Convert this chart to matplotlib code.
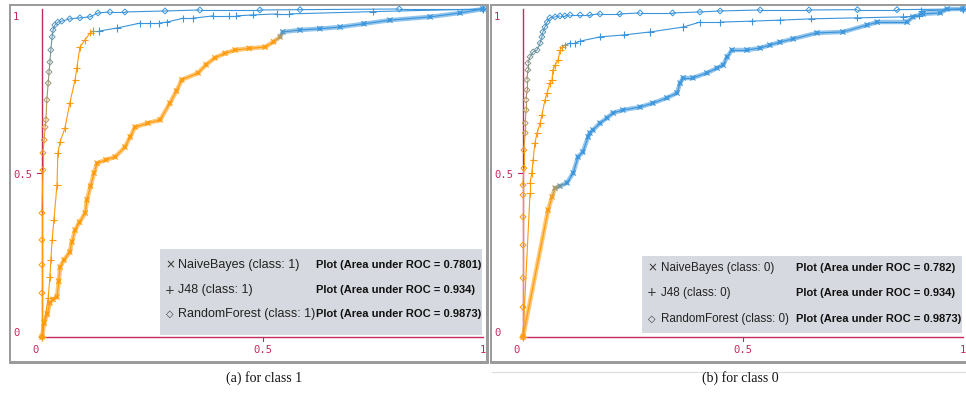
import numpy as np
import matplotlib
matplotlib.use("Agg")
import matplotlib.pyplot as plt
from matplotlib.collections import LineCollection
from matplotlib.colors import LinearSegmentedColormap
from matplotlib.patches import Rectangle

# ---------------- data: ROC points (false positive rate, true positive rate) ----------------
# class 1
nb1_fpr = [0, 0.005, 0.012, 0.018, 0.025, 0.034, 0.038, 0.041, 0.05, 0.063, 0.068, 0.075, 0.085,
           0.098, 0.102, 0.11, 0.118, 0.125, 0.145, 0.166, 0.188, 0.2, 0.211, 0.24, 0.268, 0.29,
           0.305, 0.317, 0.354, 0.372, 0.392, 0.415, 0.438, 0.47, 0.506, 0.525, 0.54, 0.546,
           0.585, 0.63, 0.676, 0.73, 0.789, 0.88, 0.948, 1.0]
nb1_tpr = [0, 0.043, 0.07, 0.104, 0.115, 0.122, 0.17, 0.213, 0.235, 0.259, 0.29, 0.326, 0.35,
           0.378, 0.418, 0.46, 0.5, 0.53, 0.54, 0.549, 0.579, 0.61, 0.64, 0.652, 0.662, 0.713,
           0.75, 0.784, 0.805, 0.83, 0.851, 0.865, 0.875, 0.88, 0.884, 0.9, 0.915, 0.93,
           0.936, 0.94, 0.945, 0.955, 0.966, 0.976, 0.988, 1.0]

j48_1_fpr = [0, 0.014, 0.018, 0.02, 0.023, 0.027, 0.034, 0.036, 0.041, 0.052, 0.063, 0.075, 0.079,
             0.086, 0.097, 0.109, 0.116, 0.13, 0.17, 0.222, 0.245, 0.265, 0.283, 0.32, 0.342,
             0.388, 0.425, 0.44, 0.478, 0.533, 0.56, 0.75, 1.0]
j48_1_tpr = [0, 0.119, 0.183, 0.235, 0.296, 0.357, 0.463, 0.561, 0.595, 0.637, 0.713, 0.784, 0.82,
             0.884, 0.905, 0.927, 0.933, 0.933, 0.942, 0.957, 0.957, 0.957, 0.96, 0.972, 0.972,
             0.979, 0.979, 0.979, 0.982, 0.985, 0.985, 0.992, 1.0]

rf1_fpr = [0, 0, 0, 0, 0, 0.002, 0.002, 0.005, 0.007, 0.009, 0.011, 0.014, 0.016, 0.018, 0.02,
           0.023, 0.025, 0.029, 0.036, 0.045, 0.063, 0.086, 0.109, 0.127, 0.154, 0.188, 0.279,
           0.358, 0.494, 0.585, 0.81, 1.0]
rf1_tpr = [0, 0.134, 0.22, 0.296, 0.378, 0.509, 0.561, 0.601, 0.64, 0.662, 0.723, 0.774, 0.808,
           0.838, 0.875, 0.915, 0.936, 0.951, 0.96, 0.963, 0.97, 0.973, 0.976, 0.988, 0.991,
           0.991, 0.994, 0.997, 0.997, 0.998, 1.0, 1.0]

# class 0
nb0_fpr = [0, 0.057, 0.066, 0.073, 0.084, 0.1, 0.114, 0.125, 0.136, 0.148, 0.152, 0.159, 0.175,
           0.191, 0.205, 0.227, 0.266, 0.295, 0.327, 0.35, 0.357, 0.364, 0.386, 0.418, 0.441,
           0.455, 0.464, 0.475, 0.509, 0.539, 0.561, 0.584, 0.614, 0.668, 0.727, 0.782, 0.805,
           0.873, 0.886, 0.909, 0.948, 0.964, 1.0]
nb0_tpr = [0, 0.387, 0.427, 0.454, 0.46, 0.47, 0.5, 0.549, 0.564, 0.61, 0.622, 0.631, 0.652,
           0.668, 0.683, 0.692, 0.701, 0.713, 0.729, 0.744, 0.774, 0.79, 0.79, 0.805, 0.82,
           0.829, 0.854, 0.875, 0.875, 0.881, 0.89, 0.899, 0.909, 0.927, 0.93, 0.951, 0.96,
           0.96, 0.976, 0.985, 0.988, 1.0, 1.0]

j48_0_fpr = [0, 0.016, 0.016, 0.02, 0.023, 0.027, 0.032, 0.039, 0.043, 0.05, 0.055, 0.061, 0.066,
             0.068, 0.073, 0.08, 0.084, 0.089, 0.095, 0.107, 0.118, 0.13, 0.175, 0.23, 0.289,
             0.364, 0.402, 0.448, 0.52, 0.584, 0.655, 0.76, 0.864, 0.9, 0.905, 1.0]
j48_0_tpr = [0, 0.439, 0.47, 0.5, 0.54, 0.591, 0.622, 0.652, 0.677, 0.723, 0.744, 0.774, 0.784,
             0.814, 0.829, 0.845, 0.875, 0.884, 0.89, 0.896, 0.896, 0.902, 0.915, 0.921, 0.93,
             0.945, 0.96, 0.96, 0.963, 0.966, 0.97, 0.973, 0.976, 0.979, 0.994, 1.0]

rf0_fpr = [0, 0, 0, 0, 0, 0, 0, 0.002, 0.002, 0.005, 0.005, 0.007, 0.007, 0.009, 0.009, 0.011,
           0.011, 0.016, 0.023, 0.032, 0.039, 0.043, 0.045, 0.05, 0.055, 0.061, 0.073, 0.084,
           0.095, 0.107, 0.13, 0.152, 0.175, 0.22, 0.266, 0.34, 0.402, 0.448, 0.539, 0.65,
           0.76, 0.85, 1.0]
rf0_tpr = [0, 0.091, 0.18, 0.28, 0.366, 0.433, 0.463, 0.515, 0.57, 0.622, 0.652, 0.692, 0.723,
           0.753, 0.784, 0.814, 0.835, 0.854, 0.869, 0.875, 0.896, 0.915, 0.93, 0.945, 0.96,
           0.973, 0.976, 0.979, 0.979, 0.982, 0.982, 0.982, 0.985, 0.985, 0.988, 0.988, 0.991,
           0.994, 0.997, 0.997, 0.998, 0.998, 1.0]

classifiers = ["NaiveBayes", "J48", "RandomForest"]
auc_class1 = ["0.7801", "0.934", "0.9873"]
auc_class0 = ["0.782", "0.934", "0.9873"]
captions = ["(a) for class 1", "(b) for class 0"]
tick_values = [0, 0.5, 1]
tick_labels = ["0", "0.5", "1"]

# ---------------- styling ----------------
W, H = 966, 393
fig = plt.figure(figsize=(W / 100, H / 100), dpi=100)
fig.patch.set_facecolor("white")

# points are shaded by threshold: orange (low) through grey to blue (high)
thr_cmap = LinearSegmentedColormap.from_list("thr", ["#ff9a0a", "#3a95dc"])
AXIS_RED = "#c42a5c"
FRAME = "#9b9b9b"
LEGEND_BG = "#d6d9df"


def frect(x0, y0, x1, y1):
    """Figure-fraction rectangle from a pixel box (top-left origin)."""
    return [x0 / W, 1 - y1 / H, (x1 - x0) / W, (y1 - y0) / H]


def fig_xy(px, py):
    return px / W, 1 - py / H


def add_box(x0, y0, x1, y1, color, z):
    r = frect(x0, y0, x1, y1)
    fig.add_artist(Rectangle((r[0], r[1]), r[2], r[3], transform=fig.transFigure,
                             facecolor=color, edgecolor="none", zorder=z))


def draw_frame(x0, y0, x1, y1):
    add_box(x0, y0, x1, y0 + 1.6, FRAME, 5)
    add_box(x0, y0, x0 + 1.8, y1, FRAME, 5)
    add_box(x1 - 2.8, y0, x1, y1, FRAME, 5)
    add_box(x0, y1 - 3.0, x1, y1, FRAME, 5)


def draw_curve(ax, fpr, tpr, marker, ms, lo, hi, band=False):
    fpr = np.asarray(fpr, float)
    tpr = np.asarray(tpr, float)
    s = np.clip((fpr + tpr - lo) / (hi - lo), 0, 1)
    pts = np.column_stack([fpr, tpr])
    segs = np.stack([pts[:-1], pts[1:]], axis=1)
    seg_c = thr_cmap((s[:-1] + s[1:]) / 2)
    if band:
        ax.add_collection(LineCollection(segs, colors=seg_c, linewidths=3.2, alpha=0.55,
                                         capstyle="round", joinstyle="round", zorder=3))
    ax.add_collection(LineCollection(segs, colors=seg_c, linewidths=0.8, zorder=3))
    cols = thr_cmap(s)
    if marker == "D":
        ax.scatter(fpr, tpr, marker="D", s=ms, facecolors="none", edgecolors=cols,
                   linewidths=0.7, zorder=4)
    else:
        ax.scatter(fpr, tpr, marker=marker, s=ms, c=cols, linewidths=0.8, zorder=4)


def make_panel(px0, px1, zero_x, one_x, curves, aucs, cls_id, shade, box, rows,
               text_x, plot_x, name_size, cap_x, caption):
    py0, py1 = 6, 361
    zero_y, one_y = 337, 9
    sx = one_x - zero_x
    sy = zero_y - one_y
    ax = fig.add_axes(frect(px0, py0, px1, py1))
    ax.set_xlim((px0 - zero_x) / sx, (px1 - zero_x) / sx)
    ax.set_ylim((zero_y - py1) / sy, (zero_y - py0) / sy)
    ax.axis("off")

    # axis lines and the two half-way ticks
    ax.plot([0, 0], [0, 1.0], color=AXIS_RED, lw=1.0, zorder=2)
    ax.plot([0, 1], [0, 0], color=AXIS_RED, lw=1.0, zorder=2)
    ax.plot([0.5, 0.5], [0, -4 / sy], color=AXIS_RED, lw=0.8, zorder=2)
    ax.plot([0, -5 / sx], [0.5, 0.5], color=AXIS_RED, lw=0.8, zorder=2)

    (nbx, nby), (jx, jy), (rx, ry) = curves
    draw_curve(ax, nbx, nby, "x", 14, *shade[0], band=True)
    draw_curve(ax, jx, jy, "+", 26, *shade[1])
    draw_curve(ax, rx, ry, "D", 9, *shade[2])

    # tick labels (monospaced, crimson)
    mono = dict(family="DejaVu Sans Mono", fontsize=7.6, color=AXIS_RED)
    y_off = {0: -4, 0.5: 2, 1: 8}
    for v, t in zip(tick_values, tick_labels):
        fig.text(*fig_xy(px0 + 2, zero_y - v * sy + y_off[v]), t, ha="left", va="center", **mono)
    for v, t in zip(tick_values, tick_labels):
        xpix = zero_x + v * sx + (-6 if v == 0 else 0)
        fig.text(*fig_xy(xpix, 350), t, ha="center", va="center", **mono)

    # legend panel
    bx0, by0, bx1, by1 = box
    add_box(bx0, by0, bx1, by1, LEGEND_BG, 6)
    symbols = ["\u00d7", "+", "\u25c7"]
    for i, name in enumerate(classifiers):
        yc = rows[i]
        fig.text(*fig_xy(bx0 + 10, yc), symbols[i], ha="center", va="center",
                 fontsize=8.5 if i < 2 else 7, color="#333333", family="DejaVu Sans", zorder=7)
        fig.text(*fig_xy(text_x, yc), f"{name} (class: {cls_id})", ha="left", va="center",
                 fontsize=name_size, color="#222222", family="Liberation Sans", zorder=7)
        fig.text(*fig_xy(plot_x, yc), f"Plot (Area under ROC = {aucs[i]})", ha="left",
                 va="center", fontsize=8.0, fontweight="bold", color="#111111",
                 family="Liberation Sans", zorder=8,
                 bbox=dict(facecolor=LEGEND_BG, edgecolor="none", pad=0.6))
    fig.text(*fig_xy(cap_x, 378), caption, ha="center", va="center",
             fontsize=10, family="Liberation Serif", color="#111111")
    return ax


make_panel(11, 486, 42, 483,
           [(nb1_fpr, nb1_tpr), (j48_1_fpr, j48_1_tpr), (rf1_fpr, rf1_tpr)],
           auc_class1, 1,
           [(1.44, 1.48), (1.04, 1.065), (0.5, 1.06)],
           (160, 249, 482, 335), [265, 290, 314], 178, 316, 9.0, 264, captions[0])

make_panel(492, 966, 523, 963,
           [(nb0_fpr, nb0_tpr), (j48_0_fpr, j48_0_tpr), (rf0_fpr, rf0_tpr)],
           auc_class0, 0,
           [(0.5, 0.56), (0.97, 1.0), (0.5, 1.06)],
           (642, 256, 962, 333), [268, 293, 319], 661, 796, 8.4, 740, captions[1])

draw_frame(9, 4, 489, 364)
draw_frame(490, 4, 969, 364)
fig.add_artist(plt.Line2D([492 / W, 1], [1 - 372 / H, 1 - 372 / H], transform=fig.transFigure,
                          color="#dddddd", lw=0.8))

fig.savefig("out.png", dpi=100, facecolor="white")
